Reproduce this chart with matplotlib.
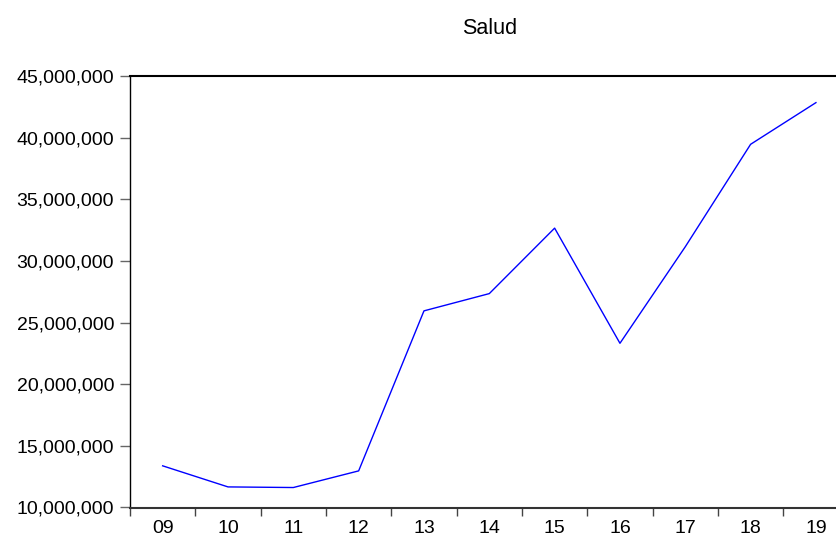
import matplotlib
matplotlib.use('Agg')
import matplotlib.pyplot as plt
from matplotlib.ticker import FuncFormatter

plt.rcParams['font.family'] = ['Liberation Sans', 'DejaVu Sans']

years = ['09', '10', '11', '12', '13', '14', '15', '16', '17', '18', '19']
salud = [13380000, 11670000, 11620000, 12970000, 25950000, 27350000,
         32660000, 23320000, 31150000, 39460000, 42840000]

fig = plt.figure(figsize=(8.36, 5.36), dpi=100)
ax = fig.add_axes([130/836, 28.5/536, 718.6/836, 431.5/536])

x = list(range(len(years)))
ax.plot(x, salud, color='#0000ff', lw=1.0)

ax.set_xlim(-0.5, len(years) - 0.5)
ax.set_ylim(10000000, 45000000)
ax.set_yticks(range(10000000, 45000001, 5000000))
ax.yaxis.set_major_formatter(FuncFormatter(lambda v, p: '{:,.0f}'.format(v)))

# ticks on the period boundaries, labels in the middle
ax.set_xticks([i - 0.5 for i in range(len(years) + 1)])
ax.set_xticklabels([])
ax.set_xticks(x, minor=True)
ax.set_xticklabels(years, minor=True)
ax.tick_params(axis='x', which='major', length=6, width=1, color='#444444', direction='out')
ax.tick_params(axis='x', which='minor', length=0, pad=9, labelsize=14)
ax.tick_params(axis='y', length=7, width=1, color='#666666', pad=4.5, labelsize=14)

ax.spines['right'].set_visible(False)
ax.spines['left'].set_linewidth(1.0)
ax.spines['top'].set_linewidth(1.5)
ax.spines['bottom'].set_linewidth(1.5)
ax.spines['bottom'].set_color('#333333')

fig.text(490/836, 1 - 28/536, 'Salud', ha='center', va='center', fontsize=15.5)

plt.savefig('out.png', dpi=100)
